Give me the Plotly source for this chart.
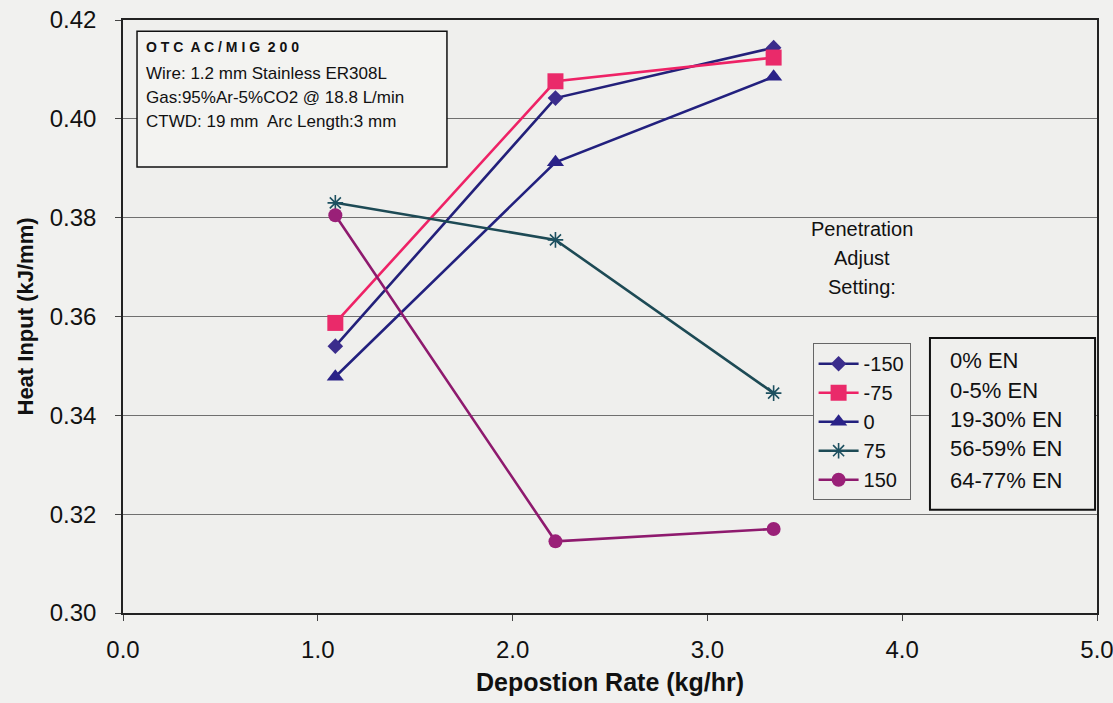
import plotly.graph_objects as go

# Deposition rate (kg/hr) and heat input (kJ/mm) per penetration-adjust setting
deposition_rate = [1.09, 2.22, 3.34]
settings = ["-150", "-75", "0", "75", "150"]
en_ranges = ["0% EN", "0-5% EN", "19-30% EN", "56-59% EN", "64-77% EN"]
heat_m150 = [0.3540, 0.4042, 0.4144]
heat_m75 = [0.3587, 0.4076, 0.4124]
heat_0 = [0.3478, 0.3912, 0.4085]
heat_75 = [0.3830, 0.3755, 0.3445]
heat_150 = [0.3805, 0.3145, 0.3170]

series = [heat_m150, heat_m75, heat_0, heat_75, heat_150]
line_colors = ["#23207a", "#ee2266", "#22207e", "#1d4a55", "#8e1a6e"]
marker_colors = ["#3b2d8c", "#ea2a6a", "#2a2288", "#1d5060", "#9a2078"]
symbols = ["diamond", "square", "triangle-up", "asterisk", "circle"]
sizes = [12, 16, 15, 13, 14]

fig = go.Figure()
for name, ys, lc, mc, sym, sz in zip(settings, series, line_colors, marker_colors, symbols, sizes):
    marker = dict(symbol=sym, size=sz, color=mc)
    if sym == "asterisk":
        marker["line"] = dict(color=mc, width=1.6)
    fig.add_trace(go.Scatter(
        x=deposition_rate, y=ys, name=name, mode="lines+markers",
        line=dict(color=lc, width=2.6), marker=marker,
    ))

font = "Liberation Sans, Arial, sans-serif"
paper_bg = "#f1f1ef"
plot_bg = "#efefed"

fig.update_layout(
    width=1113, height=703,
    margin=dict(l=123, r=16, t=20, b=90),
    paper_bgcolor=paper_bg, plot_bgcolor=plot_bg,
    font=dict(family=font, color="#111111"),
    showlegend=True,
    legend=dict(
        x=0.708, y=0.455, xanchor="left", yanchor="top",
        bgcolor=plot_bg, bordercolor="#666666", borderwidth=1,
        font=dict(size=20, family=font, color="#111111"),
        itemwidth=40, tracegroupgap=0,
    ),
    xaxis=dict(
        range=[0, 5], dtick=1, tickformat=".1f",
        showgrid=False, zeroline=False, automargin=False,
        ticklabeloverflow="allow",
        showline=True, linecolor="#222222", linewidth=1.5, mirror=True,
        ticks="outside", ticklen=6, tickcolor="#444444",
        ticklabelstandoff=8,
        tickfont=dict(size=24, family=font),
        title=dict(text="<b>Depostion Rate (kg/hr)</b>", font=dict(size=25, family=font), standoff=12),
    ),
    yaxis=dict(
        range=[0.30, 0.42], dtick=0.02, tickformat=".2f",
        showgrid=True, gridcolor="#6f6f6f", gridwidth=1, zeroline=False, automargin=False,
        ticklabeloverflow="allow",
        showline=True, linecolor="#222222", linewidth=1.5, mirror=True,
        ticks="outside", ticklen=6, tickcolor="#444444",
        ticklabelstandoff=14,
        tickfont=dict(size=24, family=font),
        title=dict(text="<b>Heat Input (kJ/mm)</b>", font=dict(size=22, family=font), standoff=10),
    ),
)

# Welding conditions box
fig.add_shape(type="rect", xref="paper", yref="paper",
              x0=0.0144, x1=0.3326, y0=0.752, y1=0.981,
              line=dict(color="#111111", width=1.5), fillcolor="#f3f3f1", layer="above")
cond_lines = [
    "<b>O T C  A C / M I G  2 0 0</b>",
    "Wire: 1.2 mm Stainless ER308L",
    "Gas:95%Ar-5%CO2 @ 18.8 L/min",
    "CTWD: 19 mm  Arc Length:3 mm",
]
cond_y = [0.9545, 0.9106, 0.870, 0.828]
for i, (txt, yy) in enumerate(zip(cond_lines, cond_y)):
    fig.add_annotation(xref="paper", yref="paper", x=0.022, y=yy,
                       text=txt, showarrow=False, xanchor="left", yanchor="middle",
                       font=dict(size=17 if i else 14, family=font, color="#111111"))

# Legend heading
for i, txt in enumerate(["Penetration", "Adjust", "Setting:"]):
    fig.add_annotation(xref="paper", yref="paper", x=0.759, y=0.6476 - i * 0.049,
                       text=txt, showarrow=False, xanchor="center", yanchor="middle",
                       font=dict(size=20, family=font, color="#111111"))

# Electrode-negative ratio box beside the legend
fig.add_shape(type="rect", xref="paper", yref="paper",
              x0=0.8285, x1=0.998, y0=0.174, y1=0.4637,
              line=dict(color="#111111", width=2), fillcolor=plot_bg, layer="above")
en_y = [0.425, 0.376, 0.3255, 0.2766, 0.224]
for txt, yy in zip(en_ranges, en_y):
    fig.add_annotation(xref="paper", yref="paper", x=0.847, y=yy,
                       text=txt, showarrow=False, xanchor="left", yanchor="middle",
                       font=dict(size=22, family=font, color="#111111"))

fig.write_html("out.html")
